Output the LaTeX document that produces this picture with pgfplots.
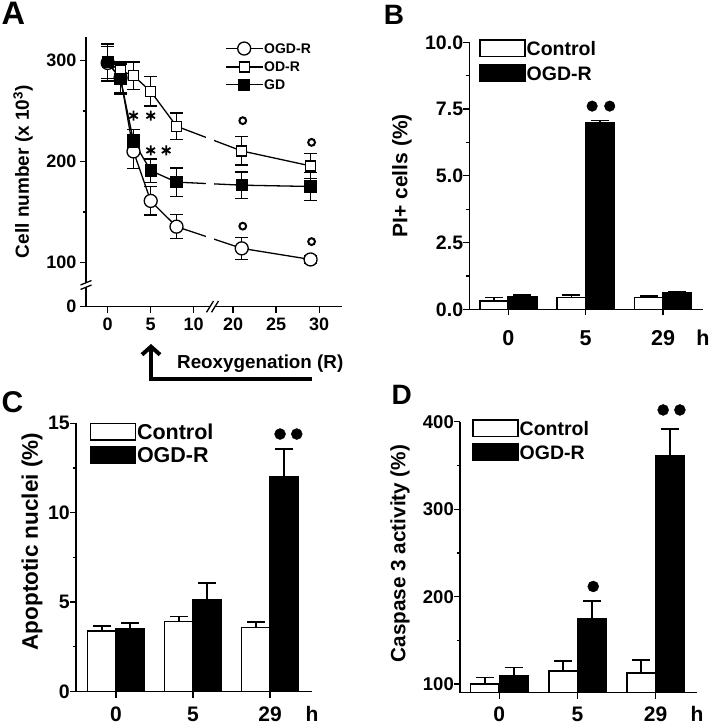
\documentclass[border=0pt]{standalone}
\usepackage{fontspec}
\setmainfont{Liberation Sans}
\usepackage{pgfplots}
\pgfplotsset{compat=1.18}
\usetikzlibrary{arrows.meta}
\newcommand{\fs}[1]{\fontsize{#1}{#1}\selectfont\bfseries}

\pgfplotsset{
  panel/.style={
    scale only axis,
    axis lines=left,
    axis line style={-, line width=1.3pt},
    tick align=outside,
    major tick length=6pt,
    minor tick length=3.5pt,
    tick style={line width=1.3pt, black},
    /pgf/number format/assume math mode=true,
    xticklabel style={anchor=base, inner sep=0pt},
    yticklabel style={inner sep=0pt, anchor=east},
    ylabel style={anchor=center},
  },
  barpanel/.style={
    panel,
    xtick={0,1,2},
    xticklabels={0,5,29},
    legend image code/.code={\draw[##1, line width=1.5pt] (0pt,-8.25pt) rectangle (45pt,8.25pt);},
    legend style={draw=none, fill=none, inner sep=0pt, anchor=north west, row sep=7pt,
      cells={anchor=west}, nodes={inner sep=1pt, text depth=0pt},
      /tikz/every even column/.append style={column sep=5.5pt}},
  },
  bareb/.style={
    error bars/y dir=plus, error bars/y explicit,
    error bars/error bar style={line width=1.8pt, black},
    error bars/error mark options={rotate=90, line width=1.8pt, mark size=9pt, black}},
  ctrl/.style={ybar, bar width=28.5pt, bar shift=0pt, fill=white, draw=black, line width=1.6pt, bareb},
  ogd/.style={ybar, bar width=28.5pt, bar shift=0pt, fill=black, draw=black, line width=1.6pt, bareb},
  aplot/.style={black, line width=1.3pt,
    error bars/y dir=both, error bars/y explicit,
    error bars/error bar style={line width=1.3pt, black},
    error bars/error mark options={rotate=90, line width=1.3pt, mark size=6.5pt, black}},
}

\begin{document}
\begin{tikzpicture}[x=1pt,y=1pt]
\useasboundingbox (0,0) rectangle (709,-727);

% ---------------- Panel A ----------------
\begin{axis}[panel, at={(86pt,-306.7pt)}, anchor=south west, width=255.7pt, height=270pt,
  xmin=-2.52, xmax=27.2, ymin=56.2, ymax=323.7,
  xtick={0,5,10,14.58,19.58,24.58}, xticklabels={0,5,10,20,25,30},
  ytick={56.2,100,200,300}, yticklabels={0,100,200,300}, minor ytick={150,250},
  ticklabel style={font=\fs{18}},
  xticklabel style={yshift=-17.3pt},
  yticklabel style={xshift=-3.5pt},
  ylabel={Cell number (x 10\textsuperscript{3})},
  ylabel style={at={(axis description cs:-0.2464,0.5)}, font=\fs{19}},
  legend image code/.code={\draw[mark repeat=2, mark phase=2, #1] plot coordinates {(0pt,0pt) (18.35pt,0pt) (36.7pt,0pt)};},
  legend style={at={(0.5436,0.981)}, anchor=north west, draw=none, fill=none, inner sep=0pt,
    row sep=6pt, font=\fs{14}, cells={anchor=west}, nodes={inner sep=1pt, text depth=0pt},
    /tikz/every even column/.append style={column sep=2pt}},
]
\addplot[aplot, mark=*, mark size=6.5pt, mark options={solid, line width=1.3pt, fill=white}] coordinates {
  (0,297.7) +- (0,18)
  (1.5,283) +- (0,15)
  (3,210) +- (0,17)
  (5,161) +- (0,14)
  (8,135.5) +- (0,12)
  (15.58,114) +- (0,11)
  (23.58,103) +- (0,4)
};
\addlegendentry{OGD-R}
\addplot[aplot, mark=square*, mark size=5pt, mark options={solid, line width=1.3pt, fill=white}] coordinates {
  (0,298) +- (0,16)
  (1.5,290) +- (0,9)
  (3,285) +- (0,13.5)
  (5,269.5) +- (0,14.5)
  (8,235) +- (0,13)
  (15.58,210.5) +- (0,14)
  (23.58,195.7) +- (0,12.3)
};
\addlegendentry{OD-R}
\addplot[aplot, mark=square*, mark size=5.5pt, mark options={solid, line width=1.3pt, fill=black}] coordinates {
  (0,298.4) +- (0,18)
  (1.5,281.6) +- (0,15)
  (3,220) +- (0,12)
  (5,191) +- (0,11.5)
  (8,179.6) +- (0,14)
  (15.58,176.6) +- (0,13)
  (23.58,175.3) +- (0,14)
};
\addlegendentry{GD}
\addplot[only marks, mark=asterisk, mark size=5pt, line width=1.8pt, black, forget plot] coordinates {
  (3,245.4) (5,245.4) (5,211) (6.8,211)
};
\addplot[only marks, mark=o, mark size=3.4pt, line width=2pt, black, forget plot] coordinates {
  (15.7,240.5) (15.7,136) (23.7,219) (23.7,120.7)
};
\fill[white] (axis cs:11.4,95) rectangle (axis cs:12.4,250);
\end{axis}

% ---------------- Panel B ----------------
\begin{axis}[panel, barpanel, at={(469.3pt,-309.3pt)}, anchor=south west, width=233.7pt, height=267pt,
  xmin=-0.503, xmax=2.516, ymin=0, ymax=10,
  ytick={0,2.5,5,7.5,10}, yticklabels={0.0,2.5,5.0,7.5,10.0}, minor ytick={1.25,3.75,6.25,8.75},
  yticklabel style={font=\fs{19.5}},
  xticklabel style={font=\fs{21.5}, yshift=-29.7pt},
  ylabel={PI+ cells (\%)},
  ylabel style={at={(axis description cs:-0.288,0.5)}, font=\fs{21}},
  legend style={at={(0.0415,1.012)}, font=\fs{19.5}},
]
\addplot[ctrl] coordinates {(-0.184,0.31) +- (0,0.13) (0.816,0.44) +- (0,0.10) (1.816,0.44) +- (0,0.07)};
\addlegendentry{Control}
\addplot[ogd] coordinates {(0.184,0.47) +- (0,0.08) (1.184,6.97) +- (0,0.10) (2.184,0.62) +- (0,0.02)};
\addlegendentry{OGD-R}
\addplot[only marks, mark=*, mark size=5.3pt, black, forget plot] coordinates {(1.084,7.61) (1.311,7.61)};
\end{axis}

% ---------------- Panel C ----------------
\begin{axis}[panel, barpanel, at={(76pt,-691.5pt)}, anchor=south west, width=236pt, height=268.2pt,
  xmin=-0.52, xmax=2.545, ymin=0, ymax=15,
  ytick={0,5,10,15}, minor ytick={2.5,7.5,12.5},
  yticklabel style={font=\fs{19.5}},
  xticklabel style={font=\fs{21}, yshift=-24pt},
  ylabel={Apoptotic nuclei (\%)},
  ylabel style={at={(axis description cs:-0.1864,0.559)}, font=\fs{22.5}},
  legend style={at={(0.0564,1.002)}, font=\fs{21.5}, row sep=5.5pt},
]
\addplot[ctrl] coordinates {(-0.184,3.40) +- (0,0.28) (0.816,3.91) +- (0,0.28) (1.816,3.59) +- (0,0.28)};
\addlegendentry{Control}
\addplot[ogd] coordinates {(0.184,3.53) +- (0,0.30) (1.184,5.12) +- (0,0.94) (2.184,12.0) +- (0,1.58)};
\addlegendentry{OGD-R}
\addplot[only marks, mark=*, mark size=5.5pt, black, forget plot] coordinates {(2.130,14.4) (2.347,14.4)};
\end{axis}

% ---------------- Panel D ----------------
\begin{axis}[panel, barpanel, at={(460pt,-692.5pt)}, anchor=south west, width=237pt, height=289.2pt,
  xmin=-0.503, xmax=2.53, ymin=90.4, ymax=421,
  y axis line style={shorten >=18.4pt},
  ytick={100,200,300,400}, minor ytick={150,250,350},
  yticklabel style={font=\fs{18.5}},
  xticklabel style={font=\fs{21}, yshift=-23pt},
  ylabel={Caspase 3 activity (\%)},
  ylabel style={at={(axis description cs:-0.253,0.4806)}, font=\fs{20.7}},
  legend style={at={(0.0506,0.9447)}, font=\fs{19.5}, row sep=6pt},
]
\addplot[ctrl] coordinates {(-0.184,100) +- (0,7.6) (0.816,115.3) +- (0,11.5) (1.816,113) +- (0,15)};
\addlegendentry{Control}
\addplot[ogd] coordinates {(0.184,109.6) +- (0,9.5) (1.184,174.5) +- (0,20.3) (2.184,360.7) +- (0,31.3)};
\addlegendentry{OGD-R}
\addplot[only marks, mark=*, mark size=5.5pt, black, forget plot] coordinates {(2.097,413.4) (2.311,413.4) (1.202,211.6)};
\end{axis}

% hour unit labels
\node[font=\fs{21.5}, anchor=base, inner sep=0pt] at (703,-345) {h};
\node[font=\fs{21}, anchor=base, inner sep=0pt] at (312,-721.5) {h};
\node[font=\fs{21}, anchor=base, inner sep=0pt] at (697,-721.5) {h};

% ---------------- decorations ----------------
% axis breaks in A
\fill[white] (210,-302) rectangle (216,-311);
\draw[line width=1.3pt] (206.5,-312.3) -- (213.5,-301);
\draw[line width=1.3pt] (211.5,-312.3) -- (218.5,-301);
\fill[white] (84,-282.8) rectangle (88,-287.2);
\draw[line width=1.3pt] (80.5,-285) -- (91.5,-280.5);
\draw[line width=1.3pt] (80.5,-289.5) -- (91.5,-285);

% reoxygenation arrow
\draw[line width=4pt] (149,-378.5) -- (312,-378.5);
\draw[line width=4.5pt, -{Straight Barb[length=8pt, width=18pt, line width=4pt]}] (151,-378.5) -- (151,-344);
\node[anchor=base west, inner sep=0pt, font=\fs{18.8}] at (177,-368.3) {Reoxygenation (R)};

% panel letters
\node[inner sep=0pt, font=\fs{32.5}] at (13.3,-13.3) {A};
\node[inner sep=0pt, font=\fs{28}] at (394,-15) {B};
\node[inner sep=0pt, font=\fs{30}] at (12.5,-402.5) {C};
\node[inner sep=0pt, font=\fs{28}] at (401.7,-395) {D};
\end{tikzpicture}
\end{document}
